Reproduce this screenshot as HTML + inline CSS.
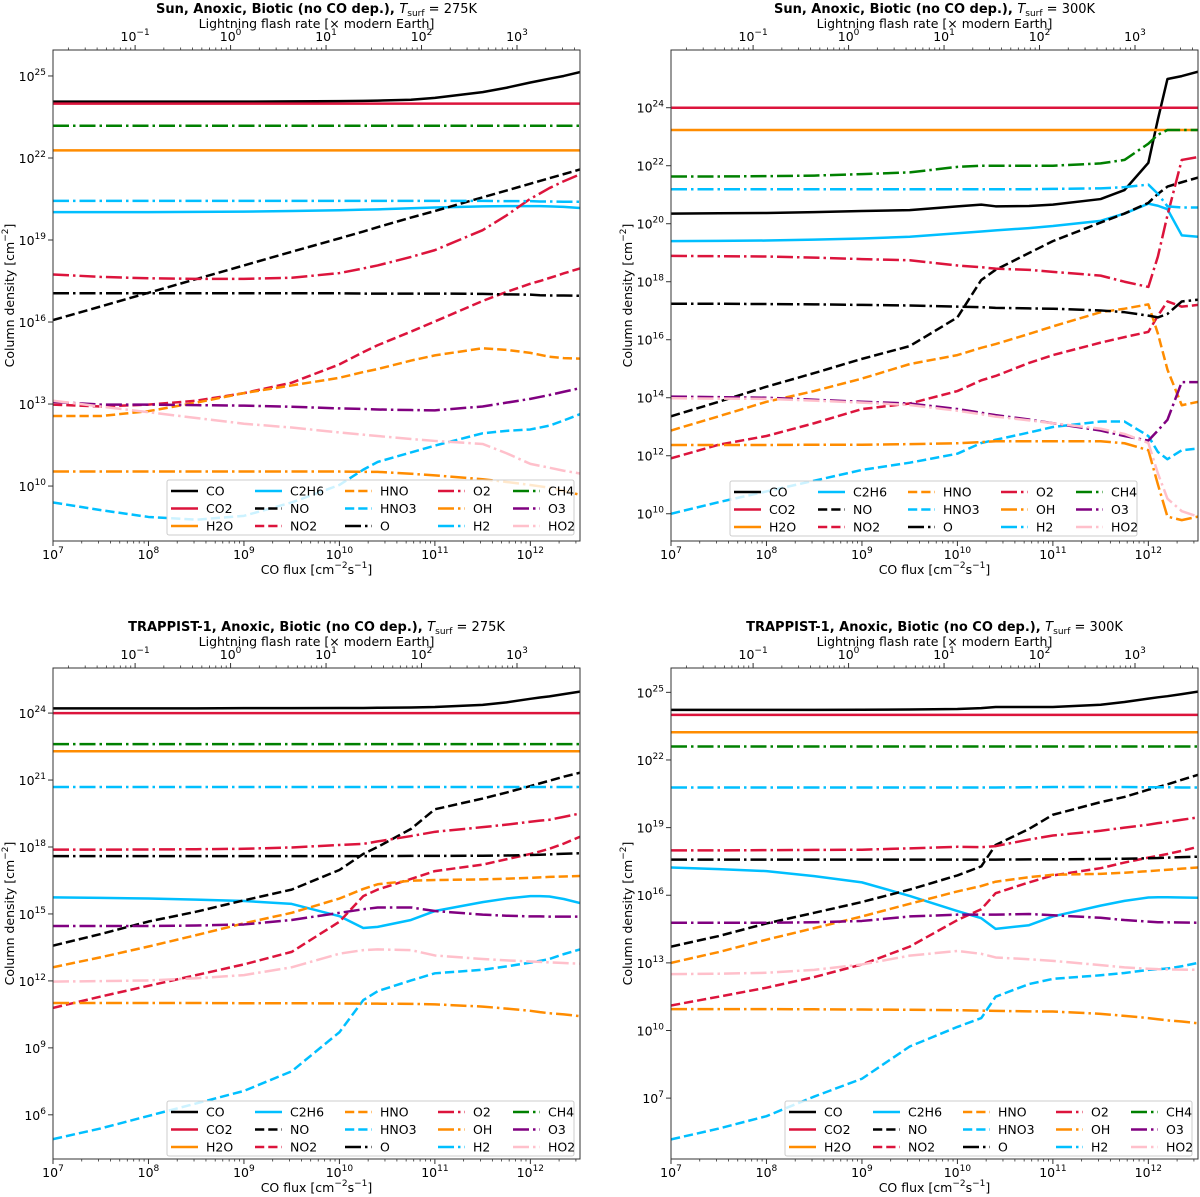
<!DOCTYPE html>
<html><head><meta charset="utf-8">
<style>
html,body{margin:0;padding:0;background:#fff;}
svg{display:block;font-family:"DejaVu Sans","Liberation Sans",sans-serif;}
</style></head>
<body>
<svg id="fig" width="1200" height="1197" viewBox="0 0 1200 1197" xmlns="http://www.w3.org/2000/svg"></svg>
<script>
// shared x grid: log10 CO flux [cm^-2 s^-1]
const fluxLog = [7,7.5,8,8.5,9,9.5,10,10.25,10.4,10.75,11,11.5,11.75,12,12.1,12.2,12.35,12.52];
const speciesNames = ["CO","CO2","H2O","C2H6","NO","NO2","HNO","HNO3","O","O2","OH","H2","CH4","O3","HO2"];
const lightningTicks = [-1,0,1,2,3];
const lightningOffset = 8.86; // log10 CO flux at 1x modern Earth lightning

// ---- Panel 1: Sun, 275K (log10 column density) ----
const p1CO   = [24.06,24.06,24.06,24.06,24.06,24.07,24.08,24.09,24.1,24.13,24.2,24.41,24.57,24.76,24.83,24.9,25.0,25.14];
const p1CO2  = [23.99,23.99,23.99,23.99,23.99,23.99,23.99,23.99,23.99,23.99,23.99,23.99,23.99,23.99,23.99,23.99,23.99,23.99];
const p1H2O  = [22.28,22.28,22.28,22.28,22.28,22.28,22.28,22.28,22.28,22.28,22.28,22.28,22.28,22.28,22.28,22.28,22.28,22.28];
const p1C2H6 = [20.02,20.02,20.02,20.03,20.04,20.06,20.09,20.11,20.12,20.16,20.19,20.23,20.24,20.24,20.24,20.23,20.21,20.17];
const p1NO   = [16.07,16.57,17.07,17.57,18.07,18.57,19.06,19.31,19.47,19.82,20.06,20.56,20.81,21.06,21.16,21.26,21.41,21.58];
const p1NO2  = [12.98,12.91,12.98,13.12,13.4,13.78,14.45,14.9,15.15,15.65,16.02,16.77,17.1,17.4,17.5,17.61,17.78,17.96];
const p1HNO  = [12.56,12.56,12.74,13.05,13.4,13.68,13.96,14.17,14.28,14.59,14.78,15.04,14.98,14.87,14.8,14.73,14.68,14.66];
const p1HNO3 = [9.4,9.12,8.87,8.77,8.91,9.4,10.04,10.6,10.88,11.23,11.48,11.93,12.02,12.07,12.14,12.21,12.4,12.63];
const p1O    = [17.05,17.05,17.05,17.05,17.05,17.05,17.05,17.04,17.04,17.04,17.04,17.03,17.01,17.0,16.98,16.97,16.97,16.96];
const p1O2   = [17.74,17.65,17.6,17.58,17.58,17.62,17.79,17.96,18.07,18.38,18.63,19.36,19.9,20.51,20.7,20.9,21.15,21.4];
const p1OH   = [10.53,10.53,10.53,10.53,10.53,10.53,10.53,10.52,10.52,10.45,10.39,10.25,10.15,10.04,9.99,9.94,9.82,9.68];
const p1H2   = [20.43,20.43,20.43,20.43,20.43,20.43,20.43,20.43,20.43,20.43,20.43,20.43,20.42,20.42,20.41,20.41,20.4,20.4];
const p1CH4  = [23.18,23.18,23.18,23.18,23.18,23.18,23.18,23.18,23.18,23.18,23.18,23.18,23.18,23.18,23.18,23.18,23.18,23.18];
const p1O3   = [13.08,12.98,12.98,12.96,12.94,12.9,12.84,12.82,12.8,12.78,12.77,12.91,13.05,13.19,13.26,13.33,13.45,13.58];
const p1HO2  = [13.12,12.91,12.7,12.49,12.28,12.14,11.96,11.88,11.83,11.72,11.65,11.54,11.2,10.81,10.74,10.67,10.56,10.46];

// ---- Panel 2: Sun, 300K ----
const p2CO   = [20.35,20.36,20.37,20.4,20.44,20.47,20.6,20.66,20.6,20.61,20.66,20.85,21.16,22.1,23.6,24.99,25.09,25.24];
const p2CO2  = [24.0,24.0,24.0,24.0,24.0,24.0,24.0,24.0,24.0,24.0,24.0,24.0,24.0,24.0,24.0,24.0,24.0,24.0];
const p2H2O  = [23.23,23.23,23.23,23.23,23.23,23.23,23.23,23.23,23.23,23.23,23.23,23.23,23.23,23.23,23.23,23.23,23.23,23.23];
const p2C2H6 = [19.4,19.41,19.42,19.45,19.49,19.55,19.67,19.73,19.77,19.85,19.92,20.1,20.35,20.69,20.62,20.5,19.6,19.55];
const p2NO   = [13.36,13.86,14.38,14.85,15.34,15.78,16.77,18.06,18.41,18.99,19.4,20.04,20.35,20.72,21.03,21.28,21.43,21.59];
const p2NO2  = [11.91,12.38,12.68,13.12,13.61,13.8,14.23,14.6,14.75,15.2,15.47,15.9,16.09,16.27,16.83,17.32,17.14,17.2];
const p2HNO  = [12.87,13.36,13.86,14.23,14.66,15.16,15.47,15.72,15.85,16.2,16.46,16.95,17.07,17.22,16.21,14.97,13.74,13.86];
const p2HNO3 = [10.0,10.4,10.77,11.14,11.51,11.76,12.07,12.44,12.55,12.8,12.99,13.18,13.18,12.68,12.13,11.88,12.19,12.25];
const p2O    = [17.24,17.24,17.23,17.22,17.2,17.18,17.14,17.12,17.1,17.08,17.07,17.01,16.95,16.83,16.77,16.89,17.32,17.38];
const p2O2   = [18.89,18.88,18.87,18.83,18.78,18.74,18.56,18.5,18.45,18.41,18.34,18.21,18.0,17.82,18.87,20.29,22.2,22.3];
const p2OH   = [12.37,12.37,12.37,12.38,12.38,12.4,12.43,12.47,12.5,12.5,12.5,12.5,12.43,12.19,11.01,9.9,9.78,9.9];
const p2H2   = [21.19,21.19,21.19,21.19,21.19,21.19,21.19,21.19,21.19,21.19,21.2,21.22,21.26,21.35,21.03,20.6,20.56,20.56];
const p2CH4  = [21.63,21.63,21.64,21.66,21.71,21.77,21.96,22.0,22.0,22.0,22.0,22.08,22.2,22.76,23.07,23.23,23.23,23.23];
const p2O3   = [14.04,14.02,14.0,13.93,13.86,13.8,13.61,13.48,13.4,13.25,13.12,12.87,12.68,12.52,12.87,13.24,14.54,14.54];
const p2HO2  = [13.98,13.97,13.96,13.9,13.83,13.75,13.55,13.43,13.35,13.22,13.12,12.93,12.75,12.44,11.39,10.52,10.09,9.9];

// ---- Panel 3: TRAPPIST-1, 275K ----
const p3CO   = [24.21,24.21,24.21,24.21,24.22,24.22,24.23,24.23,24.24,24.25,24.27,24.37,24.48,24.64,24.7,24.75,24.85,24.96];
const p3CO2  = [24.0,24.0,24.0,24.0,24.0,24.0,24.0,24.0,24.0,24.0,24.0,24.0,24.0,24.0,24.0,24.0,24.0,24.0];
const p3H2O  = [22.29,22.29,22.29,22.29,22.29,22.29,22.29,22.29,22.29,22.29,22.29,22.29,22.29,22.29,22.29,22.29,22.29,22.29];
const p3C2H6 = [15.74,15.72,15.69,15.64,15.58,15.45,14.9,14.37,14.42,14.73,15.13,15.53,15.69,15.8,15.8,15.78,15.67,15.49];
const p3NO   = [13.58,14.1,14.66,15.1,15.61,16.09,16.97,17.69,18.0,18.81,19.69,20.17,20.44,20.73,20.85,20.97,21.15,21.33];
const p3NO2  = [10.79,11.3,11.78,12.26,12.74,13.3,14.65,15.8,16.09,16.57,16.92,17.21,17.45,17.69,17.8,17.92,18.15,18.46];
const p3HNO  = [12.61,13.06,13.54,14.05,14.58,15.05,15.69,16.12,16.33,16.49,16.52,16.55,16.58,16.62,16.64,16.66,16.68,16.7];
const p3HNO3 = [4.91,5.39,5.95,6.51,7.07,7.95,9.7,11.14,11.54,12.02,12.34,12.5,12.65,12.82,12.9,12.98,13.2,13.41];
const p3O    = [17.59,17.59,17.59,17.59,17.59,17.59,17.59,17.59,17.59,17.6,17.6,17.61,17.62,17.64,17.65,17.67,17.7,17.72];
const p3O2   = [17.88,17.88,17.89,17.9,17.92,17.98,18.09,18.14,18.25,18.49,18.68,18.89,19.0,19.13,19.18,19.22,19.35,19.5];
const p3OH   = [11.01,11.01,11.01,11.01,11.0,11.0,10.99,10.98,10.98,10.97,10.95,10.85,10.76,10.66,10.6,10.55,10.5,10.42];
const p3H2   = [20.69,20.69,20.69,20.69,20.69,20.69,20.69,20.69,20.69,20.69,20.69,20.69,20.69,20.69,20.69,20.69,20.69,20.69];
const p3CH4  = [22.61,22.61,22.61,22.61,22.61,22.61,22.61,22.61,22.61,22.61,22.61,22.61,22.61,22.61,22.61,22.61,22.61,22.61];
const p3O3   = [14.46,14.46,14.46,14.48,14.53,14.73,15.05,15.21,15.29,15.29,15.13,14.97,14.92,14.89,14.89,14.88,14.88,14.88];
const p3HO2  = [11.97,11.99,12.02,12.12,12.26,12.61,13.22,13.38,13.41,13.38,13.14,12.98,12.92,12.87,12.85,12.83,12.8,12.77];

// ---- Panel 4: TRAPPIST-1, 300K ----
const p4CO   = [24.22,24.22,24.22,24.22,24.23,24.24,24.26,24.3,24.35,24.35,24.35,24.45,24.57,24.72,24.78,24.83,24.92,25.03];
const p4CO2  = [24.0,24.0,24.0,24.0,24.0,24.0,24.0,24.0,24.0,24.0,24.0,24.0,24.0,24.0,24.0,24.0,24.0,24.0];
const p4H2O  = [23.23,23.23,23.23,23.23,23.23,23.23,23.23,23.23,23.23,23.23,23.23,23.23,23.23,23.23,23.23,23.23,23.23,23.23];
const p4C2H6 = [17.23,17.16,17.07,16.85,16.57,15.97,15.3,14.98,14.51,14.67,15.06,15.54,15.75,15.9,15.91,15.91,15.9,15.89];
const p4NO   = [13.72,14.19,14.75,15.22,15.7,16.25,16.88,17.28,18.23,18.94,19.57,20.13,20.36,20.68,20.8,20.92,21.12,21.34];
const p4NO2  = [11.11,11.5,11.9,12.37,12.93,13.72,14.9,15.38,16.09,16.57,16.88,17.2,17.45,17.67,17.75,17.83,17.97,18.15];
const p4HNO  = [13.0,13.48,14.03,14.54,15.06,15.62,16.17,16.41,16.6,16.8,16.91,16.95,17.0,17.07,17.1,17.13,17.18,17.23];
const p4HNO3 = [5.17,5.65,6.2,7.07,7.86,9.29,10.16,10.55,11.5,12.06,12.29,12.45,12.55,12.69,12.72,12.75,12.85,13.0];
const p4O    = [17.58,17.58,17.58,17.58,17.58,17.58,17.58,17.58,17.58,17.59,17.59,17.61,17.62,17.64,17.65,17.67,17.69,17.71];
const p4O2   = [17.99,17.99,18.0,18.01,18.02,18.08,18.15,18.13,18.18,18.47,18.65,18.86,19.0,19.13,19.2,19.25,19.35,19.45];
const p4OH   = [10.95,10.95,10.95,10.94,10.93,10.92,10.9,10.88,10.87,10.85,10.84,10.74,10.65,10.55,10.5,10.45,10.4,10.32];
const p4H2   = [20.78,20.78,20.78,20.78,20.78,20.78,20.78,20.78,20.78,20.79,20.8,20.8,20.8,20.79,20.79,20.79,20.78,20.78];
const p4CH4  = [22.6,22.6,22.6,22.6,22.6,22.6,22.6,22.6,22.6,22.6,22.6,22.6,22.6,22.6,22.6,22.6,22.6,22.6];
const p4O3   = [14.78,14.78,14.78,14.8,14.86,15.06,15.14,15.14,15.14,15.17,15.11,15.0,14.9,14.83,14.8,14.8,14.79,14.78];
const p4HO2  = [12.5,12.52,12.56,12.69,12.93,13.32,13.53,13.4,13.24,13.16,13.09,12.9,12.8,12.74,12.72,12.71,12.7,12.69];

const p1YTicks = [10,13,16,19,22,25];
const p2YTicks = [10,12,14,16,18,20,22,24];
const p3YTicks = [6,9,12,15,18,21,24];
const p4YTicks = [7,10,13,16,19,22,25];

const panelSeries = [
  [p1CO,p1CO2,p1H2O,p1C2H6,p1NO,p1NO2,p1HNO,p1HNO3,p1O,p1O2,p1OH,p1H2,p1CH4,p1O3,p1HO2],
  [p2CO,p2CO2,p2H2O,p2C2H6,p2NO,p2NO2,p2HNO,p2HNO3,p2O,p2O2,p2OH,p2H2,p2CH4,p2O3,p2HO2],
  [p3CO,p3CO2,p3H2O,p3C2H6,p3NO,p3NO2,p3HNO,p3HNO3,p3O,p3O2,p3OH,p3H2,p3CH4,p3O3,p3HO2],
  [p4CO,p4CO2,p4H2O,p4C2H6,p4NO,p4NO2,p4HNO,p4HNO3,p4O,p4O2,p4OH,p4H2,p4CH4,p4O3,p4HO2]
];

const NS = "http://www.w3.org/2000/svg";
const svg = document.getElementById("fig");
const COL = {k:"#000000",r:"#DC143C",o:"#FF8C00",b:"#00BFFF",g:"#008000",p:"#800080",pk:"#FFC0CB"};
const DASH = {solid:"", dashed:"9.25,4", dashdot:"16,4,2.5,4"};
const styles = [["k","solid"],["r","solid"],["o","solid"],["b","solid"],["k","dashed"],["r","dashed"],["o","dashed"],["b","dashed"],["k","dashdot"],["r","dashdot"],["o","dashdot"],["b","dashdot"],["g","dashdot"],["p","dashdot"],["pk","dashdot"]];

function mk(tag, attrs, parent){
  const e = document.createElementNS(NS, tag);
  for (const k in attrs) e.setAttribute(k, attrs[k]);
  (parent||svg).appendChild(e);
  return e;
}
function powText(parent, x, y, exp, anchor, name){
  const t = mk("text", {x:x, y:y, "text-anchor":anchor, "font-size":"12.5", fill:"#000"}, parent);
  
  
  t.appendChild(document.createTextNode("10"));
  const s = mk("tspan", {dy:"-6", "font-size":"9"}, t);
  s.textContent = String(exp).replace("-", "\u2212");
  return t;
}

const panels = [
  {x0:53,x1:580,y0:50,y1:541,ymin:7.99,ymax:25.95,ticks:p1YTicks,star:"Sun",T:"275K",leg:[167,480]},
  {x0:671,x1:1198,y0:50,y1:541,ymin:9.06,ymax:25.99,ticks:p2YTicks,star:"Sun",T:"300K",leg:[730,481]},
  {x0:53,x1:580,y0:668,y1:1159,ymin:4.02,ymax:26.02,ticks:p3YTicks,star:"TRAPPIST-1",T:"275K",leg:[167,1101]},
  {x0:671,x1:1198,y0:668,y1:1159,ymin:4.3,ymax:26.08,ticks:p4YTicks,star:"TRAPPIST-1",T:"300K",leg:[785,1101]}
];
const XMIN = 7, XMAX = 12.52;

panels.forEach((P, pi) => {
  const g = mk("g", {});
  
  
  const X = v => P.x0 + (v - XMIN) / (XMAX - XMIN) * (P.x1 - P.x0);
  const Y = v => P.y1 - (v - P.ymin) / (P.ymax - P.ymin) * (P.y1 - P.y0);
  const cx = (P.x0 + P.x1) / 2;

  const tt = mk("text", {x:cx, y:P.y0-37, "text-anchor":"middle", "font-size":"13"}, g);
  
  
  const tb = mk("tspan", {"font-weight":"bold"}, tt); tb.textContent = P.star + ", Anoxic, Biotic (no CO dep.), ";
  const ti = mk("tspan", {"font-style":"italic"}, tt); ti.textContent = "T";
  const ts = mk("tspan", {dy:"3", "font-size":"9"}, tt); ts.textContent = "surf";
  const tr = mk("tspan", {dy:"-3"}, tt); tr.textContent = " = " + P.T;

  const tl = mk("text", {x:cx, y:P.y0-22, "text-anchor":"middle", "font-size":"12.5"}, g);
  
  
  tl.textContent = "Lightning flash rate [\u00d7 modern Earth]";

  const cp = mk("clipPath", {id:"clip"+pi}, g);
  mk("rect", {x:P.x0, y:P.y0, width:P.x1-P.x0, height:P.y1-P.y0}, cp);

  const sg = mk("g", {"clip-path":"url(#clip"+pi+")"}, g);
  
  
  panelSeries[pi].forEach((vals, si) => {
    const d = vals.map((v, i) => (i ? "L" : "M") + X(fluxLog[i]).toFixed(2) + "," + Y(v).toFixed(2)).join(" ");
    const st = styles[si];
    const path = mk("path", {d:d, fill:"none", stroke:COL[st[0]], "stroke-width":"2.5", "stroke-linejoin":"round", "stroke-dasharray":DASH[st[1]]}, sg);
    
    
  });

  const fr = mk("rect", {x:P.x0, y:P.y0, width:P.x1-P.x0, height:P.y1-P.y0, fill:"none", stroke:"#333", "stroke-width":"1"}, g);
  
  

  for (let d = 7; d <= 12; d++) {
    const x = X(d);
    mk("line", {x1:x, y1:P.y1, x2:x, y2:P.y1+5, stroke:"#333", "stroke-width":"1"}, g);
    powText(g, x, P.y1+18, d, "middle", "x-tick-label");
    for (let m = 2; m <= 9; m++) {
      const lx = d + Math.log10(m);
      if (lx > XMAX) break;
      const xm = X(lx);
      mk("line", {x1:xm, y1:P.y1, x2:xm, y2:P.y1+2.5, stroke:"#333", "stroke-width":"0.8"}, g);
    }
  }
  const xt = mk("text", {x:cx, y:P.y1+33, "text-anchor":"middle", "font-size":"12.5"}, g);
  
  
  xt.appendChild(document.createTextNode("CO flux [cm"));
  const s1 = mk("tspan", {dy:"-6","font-size":"9"}, xt); s1.textContent = "\u22122";
  const s2 = mk("tspan", {dy:"6"}, xt); s2.textContent = "s";
  const s3 = mk("tspan", {dy:"-6","font-size":"9"}, xt); s3.textContent = "\u22121";
  const s4 = mk("tspan", {dy:"6"}, xt); s4.textContent = "]";

  lightningTicks.forEach(L => {
    const x = X(L + lightningOffset);
    mk("line", {x1:x, y1:P.y0, x2:x, y2:P.y0-5, stroke:"#333", "stroke-width":"1"}, g);
    powText(g, x, P.y0-9, L, "middle", "top-tick-label");
  });
  for (let L = -2; L <= 3; L++) for (let m = 2; m <= 9; m++) {
    const lx = L + Math.log10(m) + lightningOffset;
    if (lx < XMIN || lx > XMAX) continue;
    const xm = X(lx);
    mk("line", {x1:xm, y1:P.y0, x2:xm, y2:P.y0-2.5, stroke:"#333", "stroke-width":"0.8"}, g);
  }

  P.ticks.forEach(e => {
    const y = Y(e);
    mk("line", {x1:P.x0-5, y1:y, x2:P.x0, y2:y, stroke:"#333", "stroke-width":"1"}, g);
    powText(g, P.x0-7, y+5, e, "end", "y-tick-label");
  });
  const yl = mk("text", {x:0, y:0, "text-anchor":"middle", "font-size":"12.5", transform:"translate("+(P.x0-39)+","+((P.y0+P.y1)/2)+") rotate(-90)"}, g);
  
  
  yl.appendChild(document.createTextNode("Column density [cm"));
  const y1s = mk("tspan", {dy:"-6","font-size":"9"}, yl); y1s.textContent = "\u22122";
  const y2s = mk("tspan", {dy:"6"}, yl); y2s.textContent = "]";

  const lg = mk("g", {}, g);
  
  
  const LX = P.leg[0], LY = P.leg[1];
  mk("rect", {x:LX, y:LY, width:407, height:55, rx:2, fill:"#fff", "fill-opacity":"0.8", stroke:"#cccccc", "stroke-width":"1"}, lg);
  const colOff = [4, 88, 178, 271, 346];
  speciesNames.forEach((nm, si) => {
    const c = Math.floor(si / 3), r = si % 3;
    const lx = LX + colOff[c], ly = LY + 11 + r * 17.5;
    const st = styles[si];
    const entry = mk("g", {}, lg);
    
    
    mk("line", {x1:lx, y1:ly, x2:lx+27, y2:ly, stroke:COL[st[0]], "stroke-width":"2.5", "stroke-dasharray":DASH[st[1]]}, entry);
    const t = mk("text", {x:lx+35, y:ly+4.5, "font-size":"12.5"}, entry);
    t.textContent = nm;
  });
});
</script>
</body></html>
